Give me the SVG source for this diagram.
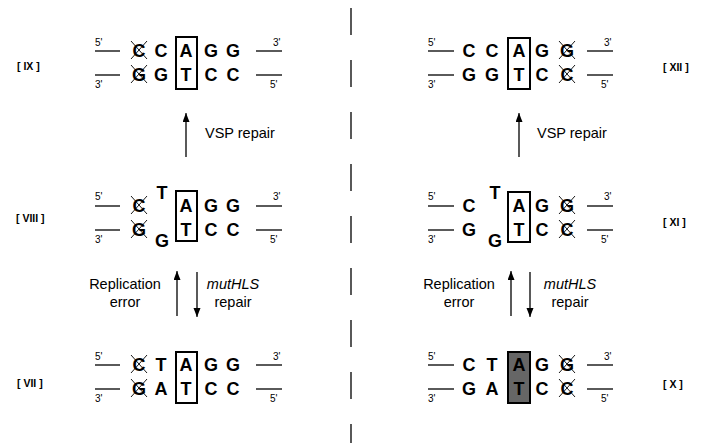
<svg xmlns="http://www.w3.org/2000/svg" width="704" height="443" viewBox="0 0 704 443">
  <style>
    .nt { font-family: "Liberation Sans", Arial, sans-serif; font-weight: bold; font-size: 18px; text-anchor: middle; fill: #000; }
    .end { font-family: "Liberation Sans", Arial, sans-serif; font-size: 10px; fill: #000; }
    .lab { font-family: "Liberation Sans", Arial, sans-serif; font-weight: bold; font-size: 10.5px; fill: #000; }
    .cap { font-family: "Liberation Sans", Arial, sans-serif; font-size: 14.5px; fill: #000; }
    .mid { text-anchor: middle; }
    .it { font-style: italic; }
    .strand { stroke: #000; stroke-width: 1.3; }
    .cross { stroke: #000; stroke-width: 0.9; }
    .box { fill: none; stroke: #000; stroke-width: 2; }
    .boxg { fill: #666; stroke: #000; stroke-width: 2; }
    .arrow { stroke: #000; stroke-width: 1.3; fill: none; marker-end: url(#head); }
    .divider { stroke: #000; stroke-width: 1.3; stroke-dasharray: 27 25; }
  </style>
  <defs>
    <marker id="head" markerUnits="userSpaceOnUse" markerWidth="8" markerHeight="10" refX="9" refY="3.5" orient="auto">
      <path d="M0,0 L9,3.5 L0,7 Z" fill="#000"/>
    </marker>
  </defs>
  <rect width="704" height="443" fill="#fff"/>

  <!-- dashed divider between the two pathways -->
  <line class="divider" x1="351" y1="8" x2="351" y2="443"/>

  <!-- IX: top left -->
  <g id="state-IX">
    <text class="lab" x="17" y="70">[ IX ]</text>
    <text class="end" x="95" y="46">5'</text>
    <line class="strand" x1="95" y1="51" x2="120" y2="51"/>
    <text class="end" x="95" y="88">3'</text>
    <line class="strand" x1="95" y1="75" x2="120" y2="75"/>
    <line class="strand" x1="256" y1="51" x2="282" y2="51"/>
    <text class="end" x="273" y="46">3'</text>
    <line class="strand" x1="256" y1="75" x2="282" y2="75"/>
    <text class="end" x="270" y="88">5'</text>
    <rect class="box" x="176" y="37" width="21" height="52"/>
    <text class="nt" x="139" y="57">C</text>
    <text class="nt" x="161" y="57">C</text>
    <text class="nt" x="186" y="57">A</text>
    <text class="nt" x="211" y="57">G</text>
    <text class="nt" x="233" y="57">G</text>
    <text class="nt" x="139" y="81">G</text>
    <text class="nt" x="161" y="81">G</text>
    <text class="nt" x="186" y="81">T</text>
    <text class="nt" x="211" y="81">C</text>
    <text class="nt" x="233" y="81">C</text>
    <path class="cross" d="M131,41 L147,59 M147,41 L131,59 M131,65 L147,83 M147,65 L131,83"/>
  </g>

  <!-- VIII: middle left -->
  <g id="state-VIII">
    <text class="lab" x="16" y="222">[ VIII ]</text>
    <text class="end" x="95" y="200">5'</text>
    <line class="strand" x1="95" y1="206" x2="120" y2="206"/>
    <text class="end" x="95" y="243">3'</text>
    <line class="strand" x1="95" y1="230" x2="120" y2="230"/>
    <line class="strand" x1="256" y1="206" x2="282" y2="206"/>
    <text class="end" x="273" y="200">3'</text>
    <line class="strand" x1="256" y1="230" x2="282" y2="230"/>
    <text class="end" x="270" y="243">5'</text>
    <rect class="box" x="176" y="191" width="21" height="50"/>
    <text class="nt" x="139" y="212">C</text>
    <text class="nt" x="162" y="199">T</text>
    <text class="nt" x="186" y="212">A</text>
    <text class="nt" x="211" y="212">G</text>
    <text class="nt" x="233" y="212">G</text>
    <text class="nt" x="139" y="236">G</text>
    <text class="nt" x="162" y="247">G</text>
    <text class="nt" x="186" y="236">T</text>
    <text class="nt" x="211" y="236">C</text>
    <text class="nt" x="233" y="236">C</text>
    <path class="cross" d="M131,196 L147,214 M147,196 L131,214 M131,220 L147,238 M147,220 L131,238"/>
  </g>

  <!-- VII: bottom left -->
  <g id="state-VII">
    <text class="lab" x="17" y="387">[ VII ]</text>
    <text class="end" x="95" y="360">5'</text>
    <line class="strand" x1="95" y1="365" x2="120" y2="365"/>
    <text class="end" x="95" y="402">3'</text>
    <line class="strand" x1="95" y1="389" x2="120" y2="389"/>
    <line class="strand" x1="256" y1="365" x2="282" y2="365"/>
    <text class="end" x="273" y="360">3'</text>
    <line class="strand" x1="256" y1="389" x2="282" y2="389"/>
    <text class="end" x="270" y="402">5'</text>
    <rect class="box" x="176" y="352" width="21" height="51"/>
    <text class="nt" x="139" y="371">C</text>
    <text class="nt" x="161" y="371">T</text>
    <text class="nt" x="186" y="371">A</text>
    <text class="nt" x="211" y="371">G</text>
    <text class="nt" x="233" y="371">G</text>
    <text class="nt" x="139" y="395">G</text>
    <text class="nt" x="161" y="395">A</text>
    <text class="nt" x="186" y="395">T</text>
    <text class="nt" x="211" y="395">C</text>
    <text class="nt" x="233" y="395">C</text>
    <path class="cross" d="M131,355 L147,373 M147,355 L131,373 M131,379 L147,397 M147,379 L131,397"/>
  </g>

  <!-- XII: top right -->
  <g id="state-XII">
    <text class="lab" x="663" y="71">[ XII ]</text>
    <text class="end" x="428" y="46">5'</text>
    <line class="strand" x1="428" y1="51" x2="454" y2="51"/>
    <text class="end" x="428" y="88">3'</text>
    <line class="strand" x1="428" y1="75" x2="454" y2="75"/>
    <line class="strand" x1="587" y1="51" x2="613" y2="51"/>
    <text class="end" x="604" y="46">3'</text>
    <line class="strand" x1="587" y1="75" x2="613" y2="75"/>
    <text class="end" x="601" y="88">5'</text>
    <rect class="box" x="508" y="38" width="22" height="51"/>
    <text class="nt" x="469" y="57">C</text>
    <text class="nt" x="492" y="57">C</text>
    <text class="nt" x="519" y="57">A</text>
    <text class="nt" x="542" y="57">G</text>
    <text class="nt" x="567" y="57">G</text>
    <text class="nt" x="469" y="81">G</text>
    <text class="nt" x="492" y="81">G</text>
    <text class="nt" x="519" y="81">T</text>
    <text class="nt" x="542" y="81">C</text>
    <text class="nt" x="567" y="81">C</text>
    <path class="cross" d="M559,41 L575,59 M575,41 L559,59 M559,65 L575,83 M575,65 L559,83"/>
  </g>

  <!-- XI: middle right -->
  <g id="state-XI">
    <text class="lab" x="663" y="226">[ XI ]</text>
    <text class="end" x="428" y="200">5'</text>
    <line class="strand" x1="428" y1="206" x2="454" y2="206"/>
    <text class="end" x="428" y="243">3'</text>
    <line class="strand" x1="428" y1="230" x2="454" y2="230"/>
    <line class="strand" x1="587" y1="206" x2="613" y2="206"/>
    <text class="end" x="604" y="200">3'</text>
    <line class="strand" x1="587" y1="230" x2="613" y2="230"/>
    <text class="end" x="601" y="243">5'</text>
    <rect class="box" x="508" y="192" width="22" height="50"/>
    <text class="nt" x="469" y="212">C</text>
    <text class="nt" x="495" y="199">T</text>
    <text class="nt" x="519" y="212">A</text>
    <text class="nt" x="542" y="212">G</text>
    <text class="nt" x="567" y="212">G</text>
    <text class="nt" x="469" y="236">G</text>
    <text class="nt" x="495" y="247">G</text>
    <text class="nt" x="519" y="236">T</text>
    <text class="nt" x="542" y="236">C</text>
    <text class="nt" x="567" y="236">C</text>
    <path class="cross" d="M559,196 L575,214 M575,196 L559,214 M559,220 L575,238 M575,220 L559,238"/>
  </g>

  <!-- X: bottom right -->
  <g id="state-X">
    <text class="lab" x="663" y="388">[ X ]</text>
    <text class="end" x="428" y="360">5'</text>
    <line class="strand" x1="428" y1="365" x2="454" y2="365"/>
    <text class="end" x="428" y="402">3'</text>
    <line class="strand" x1="428" y1="389" x2="454" y2="389"/>
    <line class="strand" x1="587" y1="365" x2="613" y2="365"/>
    <text class="end" x="604" y="360">3'</text>
    <line class="strand" x1="587" y1="389" x2="613" y2="389"/>
    <text class="end" x="601" y="402">5'</text>
    <rect class="boxg" x="508" y="352" width="22" height="51"/>
    <text class="nt" x="469" y="371">C</text>
    <text class="nt" x="492" y="371">T</text>
    <text class="nt" x="519" y="371">A</text>
    <text class="nt" x="542" y="371">G</text>
    <text class="nt" x="567" y="371">G</text>
    <text class="nt" x="469" y="395">G</text>
    <text class="nt" x="492" y="395">A</text>
    <text class="nt" x="519" y="395">T</text>
    <text class="nt" x="542" y="395">C</text>
    <text class="nt" x="567" y="395">C</text>
    <path class="cross" d="M559,355 L575,373 M575,355 L559,373 M559,379 L575,397 M575,379 L559,397"/>
  </g>

  <!-- transitions between states -->
  <g id="connectors">
    <line class="arrow" x1="186" y1="157" x2="186" y2="113"/>
    <text class="cap" x="205" y="138">VSP repair</text>
    <line class="arrow" x1="519" y1="157" x2="519" y2="113"/>
    <text class="cap" x="537" y="138">VSP repair</text>

    <line class="arrow" x1="177" y1="316" x2="177" y2="271"/>
    <line class="arrow" x1="197" y1="272" x2="197" y2="317"/>
    <text class="cap mid" x="125" y="289">Replication</text>
    <text class="cap mid" x="125" y="307">error</text>
    <text class="cap mid it" x="233" y="289">mutHLS</text>
    <text class="cap mid" x="233" y="307">repair</text>

    <line class="arrow" x1="511" y1="316" x2="511" y2="271"/>
    <line class="arrow" x1="530" y1="272" x2="530" y2="317"/>
    <text class="cap mid" x="459" y="289">Replication</text>
    <text class="cap mid" x="459" y="307">error</text>
    <text class="cap mid it" x="570" y="289">mutHLS</text>
    <text class="cap mid" x="570" y="307">repair</text>
  </g>
</svg>
